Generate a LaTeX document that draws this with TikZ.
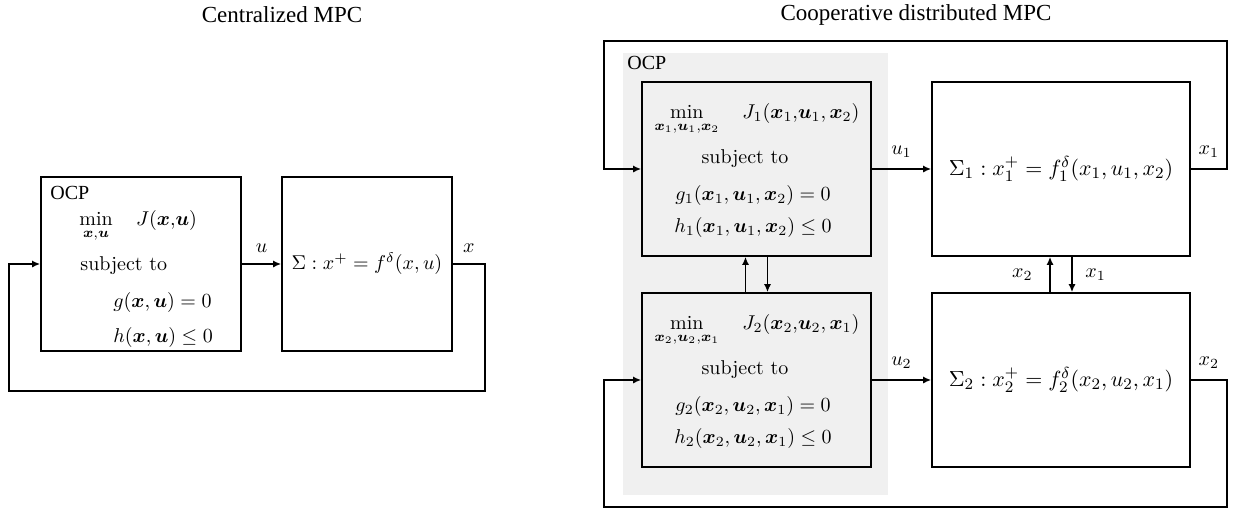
\documentclass[tikz,border=0pt]{standalone}
\usepackage{amsmath,amssymb}
\usepackage{bm}
\usepackage{fontspec}
\newfontfamily\titlefont{Liberation Serif}
\usetikzlibrary{arrows.meta}

\begin{document}
\begin{tikzpicture}[
    x=0.5pt, y=-0.5pt,
    block/.style={draw=black, thick, minimum width=#1, minimum height=87pt, inner sep=0pt},
    signal/.style={-{Latex[length=4pt,width=3.5pt]}, thick},
    txt/.style={inner sep=0pt},
    heading/.style={inner sep=0pt, font=\titlefont\fontsize{11.5}{14}\selectfont}
]
\useasboundingbox (0,0) rectangle (1237,510);

% Titles
\node[heading] (titlecen) at (282,15) {Centralized MPC};
\node[heading] (titledist) at (916,15) {Cooperative distributed MPC};

% Centralized MPC
\node[block=100pt] (ocp) at (141,264) {};
\node[block=85pt] (sys) at (367,264) {$\Sigma : x^{+} = f^{\delta}(x,u)$};

\node[txt, anchor=west, font=\titlefont] (ocplbl) at (50,193) {OCP};
\node[txt, anchor=base west] (cost) at (79,225) {$\displaystyle\min_{\bm{x}{,}\bm{u}}\quad J(\bm{x}{,}\bm{u})$};
\node[txt, anchor=base west] (subj) at (80,270) {subject to};
\node[txt, anchor=base west] (eq) at (113,307) {$g(\bm{x},\bm{u}) = 0$};
\node[txt, anchor=base west] (ineq) at (113,342) {$h(\bm{x},\bm{u}) \leq 0$};

\coordinate (fbR) at (485,391);
\coordinate (fbL) at (9,264);

\draw[signal] (ocp) -- node[above=2pt] {$u$} (sys);
\draw[signal] (sys.east) -| node[pos=0.25, above=2pt] {$x$} (fbR) -| (fbL) -- (ocp.west);

% Cooperative distributed MPC
\fill[black!6] (623,53) rectangle (888,495);
\node[txt, anchor=west, font=\titlefont] (ocplbltwo) at (627,63) {OCP};

\node[block=114.5pt, fill=black!6] (ocp1) at (756.5,169) {};
\node[block=114.5pt, fill=black!6] (ocp2) at (756.5,380) {};
\node[block=129pt, font=\fontsize{11.3}{13}\selectfont] (sys1) at (1061,169) {$\Sigma_1 : x_1^{+} = f_1^{\delta}(x_1,u_1,x_2)$};
\node[block=129pt, font=\fontsize{11.3}{13}\selectfont] (sys2) at (1061,380) {$\Sigma_2 : x_2^{+} = f_2^{\delta}(x_2,u_2,x_1)$};

\node[txt, anchor=base] (cost1) at (757,118) {$\displaystyle\min_{\bm{x}_1{,}\bm{u}_1{,}\bm{x}_2}\quad J_1(\bm{x}_1{,}\bm{u}_1,\bm{x}_2)$};
\node[txt, anchor=base] (subj1) at (745,163) {subject to};
\node[txt, anchor=base] (eq1) at (753,200) {$g_1(\bm{x}_1,\bm{u}_1,\bm{x}_2) = 0$};
\node[txt, anchor=base] (ineq1) at (753,232) {$h_1(\bm{x}_1,\bm{u}_1,\bm{x}_2) \leq 0$};

\node[txt, anchor=base] (cost2) at (757,329) {$\displaystyle\min_{\bm{x}_2{,}\bm{u}_2{,}\bm{x}_1}\quad J_2(\bm{x}_2{,}\bm{u}_2,\bm{x}_1)$};
\node[txt, anchor=base] (subj2) at (745,374) {subject to};
\node[txt, anchor=base] (eq2) at (753,411) {$g_2(\bm{x}_2,\bm{u}_2,\bm{x}_1) = 0$};
\node[txt, anchor=base] (ineq2) at (753,443) {$h_2(\bm{x}_2,\bm{u}_2,\bm{x}_1) \leq 0$};

\coordinate (topR) at (1227,41);
\coordinate (topL) at (604,169);
\coordinate (botR) at (1227,507);
\coordinate (botL) at (604,380);

\draw[signal] (ocp1) -- node[above=2pt] {$u_1$} (sys1);
\draw[signal] (ocp2) -- node[above=2pt] {$u_2$} (sys2);

\draw[signal] (sys1.east) -| node[pos=0.25, above=2pt] {$x_1$} (topR) -| (topL) -- (ocp1.west);
\draw[signal] (sys2.east) -| node[pos=0.25, above=2pt] {$x_2$} (botR) -| (botL) -- (ocp2.west);

\draw[signal] ([xshift=-5.5pt]ocp2.north) -- ([xshift=-5.5pt]ocp1.south);
\draw[signal] ([xshift=5.5pt]ocp1.south) -- ([xshift=5.5pt]ocp2.north);

\draw[signal] ([xshift=-5.5pt]sys2.north) -- node[left=5pt] {$x_2$} ([xshift=-5.5pt]sys1.south);
\draw[signal] ([xshift=5.5pt]sys1.south) -- node[right=3pt] {$x_1$} ([xshift=5.5pt]sys2.north);

\end{tikzpicture}
\end{document}
